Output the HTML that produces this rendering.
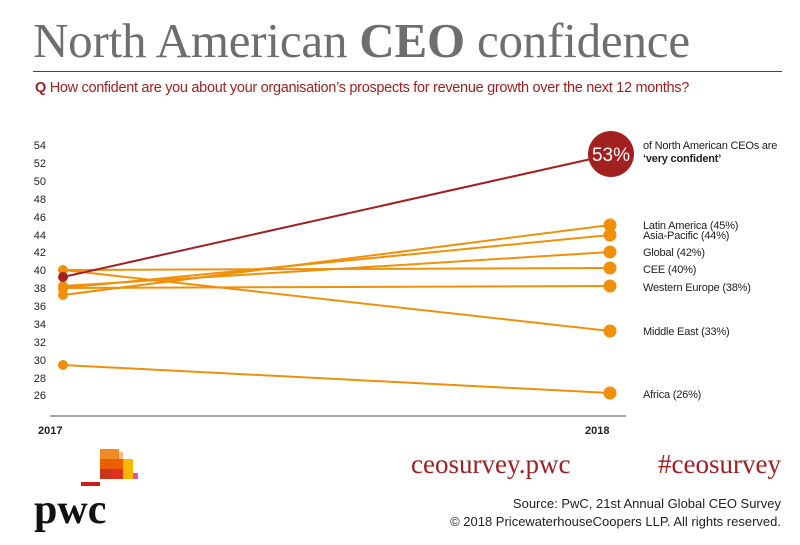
<!DOCTYPE html><html><head><style>
body{margin:0;width:800px;height:545px;background:#fff;overflow:hidden;position:relative;font-family:"Liberation Sans",sans-serif}
.t{position:absolute;white-space:nowrap}
</style></head><body>
<div class="t" style="left:33px;top:12px;font-family:'Liberation Serif',serif;font-size:49px;color:#6d6e70;letter-spacing:-0.2px">North American <b style="color:#6d6e70">CEO</b> confidence</div>
<div style="position:absolute;left:33px;top:71px;width:749px;height:1px;background:#a32020"></div>
<div class="t" style="left:35px;top:80px;font-size:14.5px;color:#a32020;letter-spacing:-0.3px"><b>Q</b> How confident are you about your organisation’s prospects for revenue growth over the next 12 months?</div>
<svg style="position:absolute;left:0;top:0" width="800" height="545">
<g font-size="11" fill="#222" text-anchor="end" font-family="Liberation Sans">
<text x="46" y="149">54</text><text x="46" y="167">52</text><text x="46" y="185">50</text><text x="46" y="203">48</text><text x="46" y="221">46</text><text x="46" y="239">44</text><text x="46" y="256">42</text><text x="46" y="274">40</text><text x="46" y="292">38</text><text x="46" y="310">36</text><text x="46" y="328">34</text><text x="46" y="346">32</text><text x="46" y="364">30</text><text x="46" y="382">28</text><text x="46" y="399">26</text>
</g>
<line x1="50" y1="416" x2="626" y2="416" stroke="#888" stroke-width="1.5"/>
<text x="38" y="434" font-size="11" font-weight="bold" fill="#222">2017</text>
<text x="585" y="434" font-size="11" font-weight="bold" fill="#222">2018</text>
<g stroke="#f0900a" stroke-width="2" fill="none">
<line x1="63" y1="295" x2="610" y2="225"/>
<line x1="63" y1="288" x2="610" y2="235"/>
<line x1="63" y1="286" x2="610" y2="252"/>
<line x1="63" y1="270" x2="610" y2="268"/>
<line x1="63" y1="288" x2="610" y2="286"/>
<line x1="63" y1="270" x2="610" y2="331"/>
<line x1="63" y1="365" x2="610" y2="393"/>
</g>
<g fill="#f0900a">
<circle cx="63" cy="270" r="5"/><circle cx="63" cy="286" r="5"/><circle cx="63" cy="289" r="5"/><circle cx="63" cy="295" r="5"/><circle cx="63" cy="365" r="5"/>
<circle cx="610" cy="225" r="6.5"/><circle cx="610" cy="235" r="6.5"/><circle cx="610" cy="252" r="6.5"/><circle cx="610" cy="268" r="6.5"/><circle cx="610" cy="286" r="6.5"/><circle cx="610" cy="331" r="6.5"/><circle cx="610" cy="393" r="6.5"/>
</g>
<line x1="63" y1="277" x2="600" y2="157" stroke="#a32020" stroke-width="2"/>
<circle cx="63" cy="277" r="5" fill="#a32020"/>
<circle cx="611" cy="154" r="23" fill="#a32020"/>
<text x="611" y="161" font-size="19" fill="#fff" text-anchor="middle" font-family="Liberation Sans">53%</text>
<g font-size="11" fill="#222" font-family="Liberation Sans" letter-spacing="-0.2">
<text x="643" y="149">of North American CEOs are</text>
<text x="643" y="162" font-weight="bold">‘very confident’</text>
<text x="643" y="229">Latin America (45%)</text>
<text x="643" y="239">Asia-Pacific (44%)</text>
<text x="643" y="256">Global (42%)</text>
<text x="643" y="273">CEE (40%)</text>
<text x="643" y="291">Western Europe (38%)</text>
<text x="643" y="335">Middle East (33%)</text>
<text x="643" y="398">Africa (26%)</text>
</g>
<g>
<rect x="100" y="449" width="19" height="10" fill="#f08a24"/>
<rect x="119" y="452" width="4" height="7" fill="#f5b98a"/>
<rect x="100" y="459" width="23" height="10" fill="#eb5f00"/>
<rect x="123" y="459" width="10" height="20" fill="#ffb600"/>
<rect x="100" y="469" width="12" height="10" fill="#c8351a"/>
<rect x="112" y="469" width="11" height="10" fill="#e0301e"/>
<rect x="133" y="473" width="5" height="6" fill="#e8539a"/>
<rect x="81" y="482" width="19" height="4" fill="#c8201a"/>
</g>
<text x="34" y="523" font-family="Liberation Serif" font-size="42" font-weight="bold" fill="#111">pwc</text>
<text x="411" y="473" font-family="Liberation Serif" font-size="27" fill="#a32020">ceosurvey.pwc</text>
<text x="781" y="473" font-family="Liberation Serif" font-size="27" fill="#a32020" text-anchor="end">#ceosurvey</text>
<text x="781" y="508" font-size="13" fill="#222" text-anchor="end">Source: PwC, 21st Annual Global CEO Survey</text>
<text x="781" y="526" font-size="13" fill="#222" text-anchor="end">© 2018 PricewaterhouseCoopers LLP. All rights reserved.</text>
</svg>
</body></html>
